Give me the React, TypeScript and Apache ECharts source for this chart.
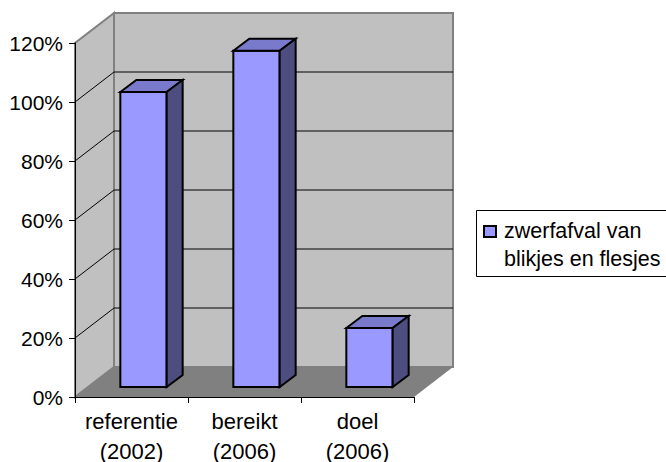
import React, { useEffect, useRef } from "react";
import * as echarts from "echarts";

const categories = ["referentie\n(2002)", "bereikt\n(2006)", "doel\n(2006)"];
const values = [100, 114, 20];
const wallTicks = [20, 40, 60, 80, 100];
const seriesLines = ["zwerfafval van", "blikjes en flesjes"];
const FONT = "Liberation Sans, Arial, sans-serif";

const DX = 39, DY = -30; // wall depth
const BAR_DX = 16, BAR_DY = -12; // bar depth
const BAR_OFF_X = 12, BAR_OFF_Y = -10; // bar position in the floor

export default function App() {
  const ref = useRef<HTMLDivElement>(null);
  useEffect(() => {
    document.body.style.margin = "0";
    const chart = echarts.init(ref.current!, undefined, { renderer: "svg" });
    chart.setOption({
      animation: false,
      backgroundColor: "#ffffff",
      textStyle: { fontFamily: FONT },
      grid: { left: 75, top: 43, width: 339, height: 354, outerBoundsMode: "none", containLabel: false },
      xAxis: {
        type: "category",
        data: categories,
        axisLine: { show: true, lineStyle: { color: "#000", width: 1 } },
        axisTick: { show: true, length: 6, alignWithLabel: false, lineStyle: { color: "#000" } },
        axisLabel: { color: "#000", fontSize: 22, fontFamily: FONT, lineHeight: 30, margin: 9, interval: 0 },
        z: 5,
      },
      yAxis: {
        type: "value",
        min: 0,
        max: 120,
        interval: 20,
        axisLine: { show: true, lineStyle: { color: "#000", width: 1 } },
        axisTick: { show: true, length: 6, lineStyle: { color: "#000" } },
        axisLabel: { color: "#000", fontSize: 21, fontFamily: FONT, formatter: "{value}%", margin: 12, padding: [0, 0, 2, 0] },
        splitLine: { show: false },
        z: 5,
      },
      series: [
        {
          type: "custom",
          name: "walls",
          silent: true,
          z: 1,
          clip: false,
          data: [0],
          encode: { x: 0, y: 0 },
          renderItem: (params: any, api: any) => {
            const cs = params.coordSys;
            const x0 = cs.x, x1 = cs.x + cs.width, yb = cs.y + cs.height, yt = cs.y;
            const wall = { fill: "#C0C0C0", stroke: "#808080", lineWidth: 2 };
            return {
              type: "group",
              children: [
                { type: "polygon", shape: { points: [[x0, yb], [x0 + DX, yb + DY], [x0 + DX, yt + DY], [x0, yt]] }, style: wall },
                { type: "polygon", shape: { points: [[x0 + DX, yb + DY], [x1 + DX, yb + DY], [x1 + DX, yt + DY], [x0 + DX, yt + DY]] }, style: wall },
                { type: "polygon", shape: { points: [[x0, yb], [x0 + DX, yb + DY], [x1 + DX, yb + DY], [x1, yb]] }, style: { fill: "#808080" } },
              ],
            };
          },
        },
        {
          type: "custom",
          name: "gridlines",
          silent: true,
          z: 2,
          clip: false,
          data: wallTicks.map((v) => [0, v]),
          encode: { x: 0, y: 1 },
          renderItem: (params: any, api: any) => {
            const cs = params.coordSys;
            const y = api.coord([0, api.value(1)])[1];
            const x0 = cs.x, x1 = cs.x + cs.width;
            return {
              type: "polyline",
              shape: { points: [[x0, y], [x0 + DX, y + DY], [x1 + DX, y + DY]] },
              style: { fill: "none", stroke: "#000", lineWidth: 1 },
            };
          },
        },
        {
          type: "custom",
          name: seriesLines.join(" "),
          z: 3,
          clip: false,
          data: values.map((v, i) => [i, v]),
          encode: { x: 0, y: 1 },
          renderItem: (params: any, api: any) => {
            const [cx, top0] = api.coord([api.value(0), api.value(1)]);
            const bottom0 = api.coord([api.value(0), 0])[1];
            const w = api.size([1, 0])[0] * 0.41;
            const l = cx + BAR_OFF_X - w / 2, r = l + w;
            const t = top0 + BAR_OFF_Y, b = bottom0 + BAR_OFF_Y;
            const line = { stroke: "#000", lineWidth: 2, lineJoin: "miter" };
            return {
              type: "group",
              children: [
                { type: "polygon", shape: { points: [[l, t], [r, t], [r, b], [l, b]] }, style: { fill: "#9999FF", ...line } },
                { type: "polygon", shape: { points: [[l, t], [l + BAR_DX, t + BAR_DY], [r + BAR_DX, t + BAR_DY], [r, t]] }, style: { fill: "#7A7ACC", ...line } },
                { type: "polygon", shape: { points: [[r, t], [r + BAR_DX, t + BAR_DY], [r + BAR_DX, b + BAR_DY], [r, b]] }, style: { fill: "#4D4D80", ...line } },
              ],
            };
          },
        },
      ],
      graphic: [
        { type: "rect", shape: { x: 476.5, y: 210.5, width: 200, height: 66 }, style: { fill: "#fff", stroke: "#000", lineWidth: 1 } },
        { type: "rect", shape: { x: 484, y: 226, width: 12, height: 11 }, style: { fill: "#9999FF", stroke: "#000", lineWidth: 2 } },
        { type: "text", x: 504, y: 231, style: { text: seriesLines[0], fill: "#000", font: `21.5px ${FONT}`, verticalAlign: "middle" } },
        { type: "text", x: 504, y: 259, style: { text: seriesLines[1], fill: "#000", font: `21.5px ${FONT}`, verticalAlign: "middle" } },
      ],
    });
    return () => chart.dispose();
  }, []);
  return <div ref={ref} style={{ width: 666, height: 462 }} />;
}
